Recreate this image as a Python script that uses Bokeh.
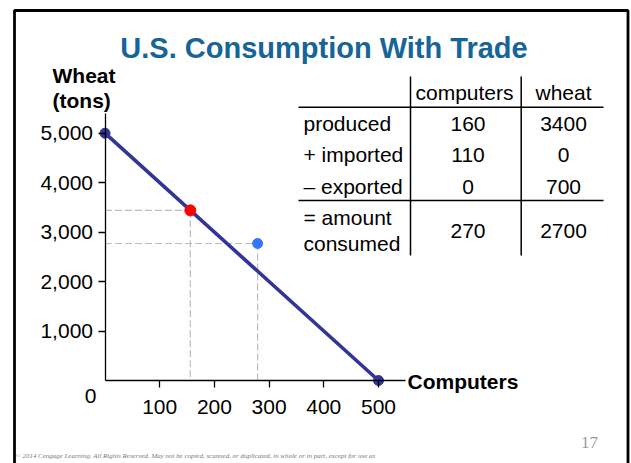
from bokeh.plotting import figure
from bokeh.models import (Range1d, LinearAxis, FixedTicker, NumeralTickFormatter)
from bokeh.core.properties import value
from bokeh.embed import file_html
from bokeh.resources import INLINE

# ---------------- data ----------------
ppf_computers = [0, 500]
ppf_wheat = [5000, 0]
produced_point = [156, 3440]      # (computers, wheat) – red
consumed_point = [279, 2770]      # (computers, wheat) – blue
x_ticks = [100, 200, 300, 400, 500]
y_ticks = [1000, 2000, 3000, 4000, 5000]

title_text = "U.S. Consumption With Trade"
x_label = "Computers"
y_label = ["Wheat", "(tons)"]
table_header = ["computers", "wheat"]
row_labels = ["produced", "+ imported", "\u2013 exported", "= amount", "consumed"]
computers_col = ["160", "110", "0", "270"]
wheat_col = ["3400", "0", "700", "2700"]
slide_number = "17"
copyright_lines = [
    "\u00a9 2014 Cengage Learning. All Rights Reserved. May not be copied, scanned, or duplicated, in whole or in part, except for use as",
]

# ---------------- geometry (page pixels -> data) ----------------
W, H = 631, 463
OFF = 0
X0_PX, XS = 104.5, 0.547     # page x of 0 computers, px per computer
Y0_PX, YS = 380.0, 0.04946   # page y of 0 wheat, px per ton


def dx(px):
    return (px - X0_PX) / XS


def dy(py):
    return (Y0_PX - py) / YS


p = figure(width=W, height=H, output_backend="svg", toolbar_location=None,
           x_range=Range1d(dx(OFF), dx(OFF + W)), y_range=Range1d(dy(OFF + H), dy(OFF)),
           x_axis_type=None, y_axis_type=None, min_border=0)
p.outline_line_color = None
p.grid.visible = False
p.background_fill_color = "white"
p.border_fill_color = "white"

FONT = value("Liberation Sans")

# slide frame
p.quad(left=[dx(14)], right=[dx(627.5)], top=[dy(10)], bottom=[dy(480)],
       fill_alpha=0, line_color="black", line_width=2.8)

# axes
xaxis = LinearAxis(fixed_location=0, bounds=(0, 550), ticker=FixedTicker(ticks=x_ticks),
                   major_label_text_font_size="21px", major_label_text_font="Liberation Sans",
                   major_label_text_color="black", axis_line_width=1.3, axis_line_color="black",
                   major_tick_out=7, major_tick_in=0, minor_tick_out=0, minor_tick_in=0,
                   major_tick_line_width=1.3, major_label_standoff=12)
yaxis = LinearAxis(fixed_location=0, bounds=(0, 5400), ticker=FixedTicker(ticks=y_ticks),
                   formatter=NumeralTickFormatter(format="0,0"),
                   major_label_text_font_size="21px", major_label_text_font="Liberation Sans",
                   major_label_text_color="black", axis_line_width=1.3, axis_line_color="black",
                   major_tick_out=7, major_tick_in=0, minor_tick_out=0, minor_tick_in=0,
                   major_tick_line_width=1.3, major_label_standoff=5)
p.add_layout(xaxis, "below")
p.add_layout(yaxis, "left")

# dashed guides
for (cx, cy) in (produced_point, consumed_point):
    p.line([0, cx], [cy, cy], line_color="#bdbdbd", line_width=1.2, line_dash="7 3")
    p.line([cx, cx], [cy, 0], line_color="#bdbdbd", line_width=1.2, line_dash="7 3")

# PPF line
p.line(ppf_computers, ppf_wheat, line_color="#333399", line_width=3.6)
p.scatter(ppf_computers, ppf_wheat, size=10, fill_color="#333399", line_color="#333399")
p.scatter([produced_point[0]], [produced_point[1]], size=11, fill_color="#ff0000", line_color="#ff0000")
p.scatter([consumed_point[0]], [consumed_point[1]], size=10, fill_color="#3377ff", line_color="#3377ff")

# origin label
p.text([dx(90)], [dy(395)], text=["0"], text_font=FONT, text_font_size="21px",
       text_align="center", text_baseline="middle", text_color="black")

# axis titles
p.text([dx(407)], [dy(381)], text=[x_label], text_font=FONT, text_font_size="21px",
       text_font_style="bold", text_align="left", text_baseline="middle", text_color="black")
p.text([dx(52), dx(52)], [dy(75), dy(100)], text=y_label, text_font=FONT, text_font_size="21px",
       text_font_style="bold", text_align="left", text_baseline="middle", text_color="black")

# title
p.text([dx(323.5)], [dy(47)], text=[title_text], text_font=FONT, text_font_size="29px",
       text_font_style="bold", text_align="center", text_baseline="middle", text_color="#166498")

# table
tbl_text = dict(text_font=FONT, text_font_size="21px", text_baseline="middle", text_color="black")
p.text([dx(464), dx(563)], [dy(92), dy(92)], text=table_header, text_align="center", **tbl_text)
row_y = [123, 154, 186, 217, 243]
p.text([dx(303)] * len(row_labels), [dy(v) for v in row_y], text=row_labels, text_align="left", **tbl_text)
val_y = [123, 154, 186, 230]
p.text([dx(467.5)] * 4, [dy(v) for v in val_y], text=computers_col, text_align="center", **tbl_text)
p.text([dx(563)] * 4, [dy(v) for v in val_y], text=wheat_col, text_align="center", **tbl_text)
for yy in (106.7, 200):
    p.line([dx(298), dx(603)], [dy(yy), dy(yy)], line_color="black", line_width=1.5)
for xx in (410, 520.7):
    p.line([dx(xx), dx(xx)], [dy(76), dy(255)], line_color="black", line_width=1.5)

# slide number and copyright
p.text([dx(589)], [dy(442)], text=[slide_number], text_font=value("Liberation Serif"),
       text_font_size="17px", text_align="center", text_baseline="middle", text_color="#9a9a9a")
p.text([dx(15)], [dy(455)], text=copyright_lines, text_font=value("Liberation Serif"),
       text_font_size="6.95px", text_font_style="italic", text_align="left",
       text_baseline="middle", text_color="#7a7a7a")

open("out.html", "w").write(file_html(p, INLINE))
